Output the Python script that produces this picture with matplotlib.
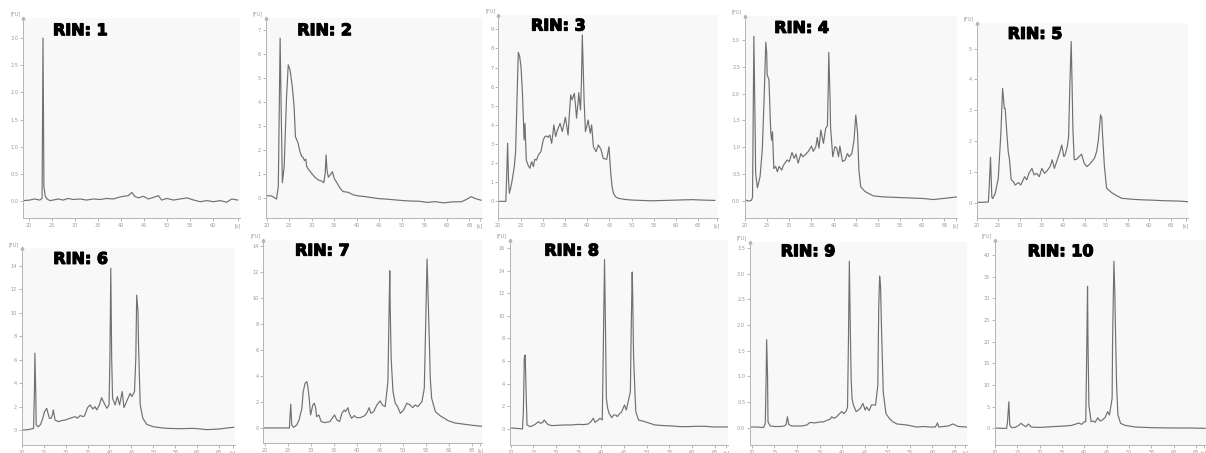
import matplotlib.pyplot as plt
import matplotlib.patheffects as pe
from matplotlib.ticker import FormatStrFormatter

# Bioanalyzer electropherograms, one per RIN score: migration time [s] vs fluorescence [FU]
rin_scores = [1, 2, 3, 4, 5, 6, 7, 8, 9, 10]

rin1_t = [18.8, 20.1, 21.2, 22.3, 22.8, 23.0, 23.2, 23.5, 23.9, 24.5, 25.2, 26.3, 27.4, 28.5,
          29.6, 31.1, 32.5, 34.0, 35.5, 36.9, 38.4, 39.5, 40.6, 41.6, 42.4, 43.0, 43.8, 44.9,
          46.0, 47.1, 48.2, 48.9, 50.0, 51.5, 52.9, 54.4, 55.9, 57.3, 58.8, 60.2, 61.7, 63.1,
          64.2, 65.5]
rin1_fu = [0.01, 0.02, 0.04, 0.02, 0.05, 3.0, 0.27, 0.09, 0.04, 0.01, 0.02, 0.04, 0.02, 0.05,
           0.03, 0.04, 0.02, 0.04, 0.03, 0.05, 0.04, 0.07, 0.09, 0.10, 0.16, 0.09, 0.06, 0.09,
           0.04, 0.07, 0.10, 0.02, 0.05, 0.02, 0.04, 0.06, 0.02, -0.01, 0.01, -0.01, 0.01, -0.02,
           0.04, 0.02]

rin2_t = [19.8, 21.1, 22.2, 22.6, 23.0, 23.2, 23.5, 23.9, 24.4, 24.8, 25.2, 25.7, 26.1, 26.4,
          27.0, 27.4, 27.8, 28.1, 28.4, 28.7, 28.9, 29.4, 30.0, 30.7, 31.5, 32.2, 32.7, 33.0,
          33.2, 33.4, 33.7, 34.1, 34.6, 35.0, 35.6, 36.3, 37.0, 38.1, 39.3, 40.4, 41.9, 43.3,
          44.8, 47.0, 49.3, 51.5, 53.7, 55.6, 57.4, 59.3, 61.1, 63.3, 64.4, 65.4, 66.3, 67.6]
rin2_fu = [0.11, 0.10, -0.03, 0.49, 6.67, 4.1, 0.65, 1.32, 4.1, 5.56, 5.35, 4.65, 3.82, 2.57,
           2.29, 1.94, 1.74, 1.71, 1.57, 1.63, 1.32, 1.18, 1.04, 0.88, 0.76, 0.72, 0.65, 1.04,
           1.81, 1.18, 0.88, 0.97, 1.11, 0.83, 0.65, 0.42, 0.28, 0.25, 0.14, 0.10, 0.07, 0.03,
           -0.01, -0.04, -0.08, -0.11, -0.12, -0.17, -0.14, -0.19, -0.15, -0.14, -0.04, 0.07,
           -0.01, -0.08]

rin3_t = [20.1, 21.7, 21.9, 22.1, 22.3, 22.5, 23.0, 23.6, 23.9, 24.2, 24.5, 24.8, 25.1, 25.4,
          25.6, 25.8, 26.0, 26.3, 26.7, 27.1, 27.5, 27.9, 28.2, 28.6, 29.0, 29.6, 30.1, 30.5,
          30.9, 31.2, 31.6, 32.0, 32.3, 32.5, 32.9, 33.3, 33.9, 34.4, 34.8, 35.1, 35.7, 36.0,
          36.3, 36.6, 37.1, 37.4, 37.6, 38.0, 38.1, 38.5, 38.7, 38.9, 39.1, 39.3, 39.6, 39.9,
          40.2, 40.7, 41.0, 41.4, 42.0, 42.5, 43.1, 43.6, 44.4, 44.9, 45.3, 45.6, 45.9, 46.4,
          47.0, 48.5, 50.0, 52.2, 54.5, 57.5, 60.5, 63.5, 65.7, 68.7]
rin3_fu = [0.0, 0.0, 1.47, 3.04, 1.12, 0.42, 0.94, 1.82, 2.6, 5.3, 7.8, 7.59, 7.05, 5.83,
           4.6, 3.21, 4.08, 2.16, 1.9, 1.73, 2.08, 1.82, 2.2, 2.16, 2.43, 2.6, 3.21, 3.39,
           3.42, 3.35, 3.47, 3.04, 3.56, 4.0, 3.39, 3.73, 4.08, 3.65, 4.08, 4.4, 3.47, 4.61,
           5.57, 5.31, 5.65, 4.96, 4.35, 5.31, 5.69, 4.78, 6.18, 8.71, 7.05, 5.31, 3.65, 3.91,
           4.26, 3.56, 4.0, 2.86, 2.6, 2.95, 2.72, 2.25, 2.2, 2.86, 1.47, 0.77, 0.42, 0.24,
           0.16, 0.1, 0.07, 0.05, 0.03, 0.05, 0.07, 0.09, 0.07, 0.05]

rin4_t = [20.2, 20.8, 21.5, 21.7, 22.0, 22.3, 22.4, 22.8, 23.4, 23.9, 24.3, 24.7, 24.9, 25.0,
          25.4, 25.8, 26.0, 26.2, 26.5, 26.9, 27.3, 27.7, 28.3, 28.6, 29.0, 29.5, 30.0, 30.6,
          31.1, 31.5, 32.0, 32.6, 33.0, 33.5, 34.3, 35.0, 35.4, 36.0, 36.3, 36.7, 37.1, 37.7,
          38.2, 38.6, 38.8, 38.9, 39.2, 39.3, 39.8, 40.3, 40.7, 41.1, 41.4, 42.0, 42.6, 43.1,
          43.5, 44.1, 44.6, 45.0, 45.4, 45.7, 46.1, 47.1, 48.9, 51.2, 54.2, 57.2, 60.2, 62.5,
          64.7, 67.9]
rin4_fu = [0.01, -0.01, 0.01, 0.07, 3.07, 1.26, 0.51, 0.24, 0.45, 0.95, 1.88, 2.96, 2.75, 2.35,
           2.26, 1.29, 1.13, 1.29, 0.6, 0.64, 0.54, 0.64, 0.57, 0.65, 0.7, 0.76, 0.73, 0.9,
           0.79, 0.87, 0.7, 0.88, 0.82, 0.85, 0.92, 1.02, 0.92, 1.01, 1.18, 0.98, 1.32, 1.07,
           1.35, 1.4, 2.19, 2.77, 1.88, 1.38, 0.82, 1.01, 0.98, 0.82, 1.02, 0.73, 0.76, 0.88,
           0.82, 0.88, 1.13, 1.6, 1.26, 0.57, 0.26, 0.17, 0.09, 0.07, 0.06, 0.05, 0.04, 0.02,
           0.04, 0.07]

rin5_t = [20.2, 21.5, 22.7, 22.9, 23.2, 23.5, 23.7, 24.3, 25.0, 25.6, 26.0, 26.4, 26.6, 27.1,
          27.3, 27.6, 28.0, 28.5, 28.9, 29.7, 30.2, 31.1, 31.6, 32.1, 32.8, 33.3, 33.9, 34.5,
          35.1, 35.7, 36.2, 37.0, 37.5, 38.0, 38.8, 39.3, 39.7, 40.2, 40.5, 41.0, 41.3, 41.6,
          41.9, 42.1, 42.3, 42.6, 43.2, 43.7, 44.3, 44.9, 45.5, 46.0, 46.7, 47.3, 47.8, 48.2,
          48.7, 49.0, 49.1, 49.6, 50.1, 51.3, 52.5, 53.6, 55.9, 58.3, 60.6, 63.7, 66.8, 68.9]
rin5_fu = [0.01, 0.01, 0.02, 0.52, 1.47, 0.19, 0.13, 0.3, 0.79, 2.25, 3.71, 3.06, 3.06, 2.03,
           1.66, 1.39, 0.74, 0.68, 0.57, 0.65, 0.57, 0.84, 0.74, 0.95, 1.11, 0.9, 0.95, 0.84,
           1.11, 0.95, 1.01, 1.17, 1.39, 1.11, 1.44, 1.66, 1.87, 1.49, 1.55, 1.82, 2.14, 3.87,
           5.23, 3.87, 2.36, 1.39, 1.41, 1.49, 1.57, 1.28, 1.17, 1.22, 1.33, 1.44, 1.66, 2.03,
           2.85, 2.74, 2.36, 1.17, 0.47, 0.32, 0.22, 0.14, 0.11, 0.09, 0.08, 0.06, 0.05, 0.03]

rin6_t = [20.2, 21.5, 22.7, 22.9, 23.0, 23.2, 23.3, 23.8, 24.3, 24.8, 25.2, 25.7, 26.0, 26.3,
          26.7, 27.1, 27.2, 27.4, 27.6, 28.4, 29.1, 29.9, 30.6, 31.4, 32.2, 32.7, 33.3, 34.1,
          34.4, 35.0, 35.6, 36.2, 36.7, 37.1, 37.7, 38.2, 38.8, 39.4, 39.9, 40.1, 40.3, 40.5,
          40.7, 41.3, 41.8, 42.3, 42.9, 43.3, 43.9, 44.7, 45.1, 45.7, 46.0, 46.2, 46.5, 46.6,
          47.0, 47.6, 48.5, 50.0, 51.5, 53.1, 56.1, 59.1, 60.7, 62.2, 63.7, 65.2, 66.7, 68.3]
rin6_fu = [0.0, 0.03, 0.14, 3.28, 6.55, 3.28, 0.43, 0.28, 0.48, 1.0, 1.57, 1.85, 1.42, 1.0,
           1.0, 1.42, 1.71, 1.28, 0.85, 0.71, 0.8, 0.85, 0.94, 1.05, 1.14, 1.0, 1.23, 1.14,
           1.28, 1.91, 2.14, 1.79, 1.99, 1.71, 2.14, 2.76, 2.28, 1.85, 2.14, 6.13, 13.8, 6.13,
           2.71, 2.14, 2.85, 2.14, 3.28, 1.91, 2.42, 3.13, 2.85, 3.28, 6.13, 11.5, 10.1, 7.55,
           2.14, 1.0, 0.48, 0.28, 0.2, 0.14, 0.11, 0.14, 0.09, 0.03, 0.06, 0.09, 0.17, 0.23]

rin7_t = [19.8, 22.9, 25.3, 25.4, 25.6, 25.8, 26.2, 26.9, 27.4, 28.0, 28.3, 28.7, 29.1, 29.3,
          29.6, 29.9, 30.4, 30.7, 31.0, 31.2, 31.7, 32.2, 33.0, 34.1, 34.6, 35.1, 35.6, 36.2,
          36.7, 37.2, 37.5, 38.0, 38.3, 38.8, 39.4, 39.9, 40.7, 41.7, 42.2, 42.6, 43.0, 43.6,
          44.3, 45.0, 45.5, 46.1, 46.7, 46.9, 47.1, 47.2, 47.4, 47.8, 48.3, 48.8, 49.4, 50.1,
          50.8, 51.5, 52.1, 52.6, 53.2, 54.1, 54.6, 54.9, 55.2, 55.4, 55.7, 55.9, 56.2, 57.0,
          58.0, 59.9, 61.3, 62.8, 64.9, 67.1]
rin7_fu = [0.0, 0.0, 0.0, 0.74, 1.82, 0.23, 0.05, 0.23, 0.62, 1.51, 2.79, 3.44, 3.56, 3.18,
           2.28, 1.0, 1.77, 1.9, 1.56, 0.87, 1.0, 0.49, 0.41, 0.49, 0.74, 1.0, 0.62, 0.49,
           1.13, 1.38, 1.26, 1.56, 1.13, 0.74, 0.95, 0.79, 0.79, 0.95, 1.21, 1.56, 1.13, 1.26,
           1.77, 2.08, 1.77, 1.64, 3.56, 7.92, 12.1, 9.2, 5.36, 2.79, 1.9, 1.64, 1.13, 1.38,
           1.9, 1.77, 1.56, 1.77, 1.64, 2.03, 3.05, 7.92, 13.0, 10.5, 6.64, 3.82, 2.28, 1.26,
           0.95, 0.54, 0.38, 0.31, 0.21, 0.13]

rin8_t = [20.0, 21.3, 22.6, 22.8, 23.0, 23.2, 23.4, 23.6, 24.3, 24.9, 25.4, 26.1, 26.6, 27.1,
          27.4, 27.8, 28.2, 29.0, 30.5, 32.0, 33.5, 34.9, 36.0, 37.1, 37.7, 38.2, 38.6, 39.3,
          39.7, 40.2, 40.4, 40.7, 40.9, 41.1, 41.4, 41.7, 42.3, 42.7, 43.2, 43.5, 43.9, 44.5,
          45.1, 45.5, 46.0, 46.4, 46.6, 46.8, 46.9, 47.1, 47.4, 47.6, 48.2, 49.6, 51.8, 53.7,
          55.5, 57.4, 59.2, 61.0, 62.9, 64.7, 66.5, 68.0]
rin8_fu = [0.06, 0.03, -0.03, 1.51, 6.24, 6.54, 3.28, 0.33, 0.18, 0.27, 0.38, 0.62, 0.47, 0.56,
           0.77, 0.56, 0.38, 0.27, 0.3, 0.33, 0.33, 0.38, 0.36, 0.41, 0.62, 0.92, 0.56, 0.77,
           0.92, 0.77, 6.24, 15.0, 9.2, 2.69, 1.8, 1.36, 0.98, 1.21, 1.21, 1.07, 1.27, 1.51,
           2.1, 1.66, 2.54, 3.28, 9.2, 13.9, 12.2, 6.54, 3.28, 1.51, 0.77, 0.62, 0.33, 0.27,
           0.24, 0.18, 0.18, 0.21, 0.21, 0.15, 0.15, 0.15]

rin9_t = [19.8, 21.1, 22.6, 23.0, 23.2, 23.3, 23.5, 23.6, 24.1, 25.2, 26.3, 27.2, 27.6, 27.9,
          28.2, 28.8, 30.0, 31.1, 32.2, 32.9, 34.0, 35.1, 35.9, 36.6, 37.3, 37.7, 38.2, 38.8,
          39.2, 39.9, 40.4, 40.9, 41.2, 41.4, 41.6, 41.8, 42.0, 42.2, 42.5, 43.1, 43.6, 44.0,
          44.6, 45.1, 45.4, 46.0, 46.5, 47.4, 47.9, 48.1, 48.3, 48.5, 48.7, 49.1, 49.7, 50.6,
          51.3, 52.1, 53.2, 54.3, 55.4, 56.5, 58.0, 59.5, 60.6, 60.9, 61.1, 61.4, 62.4, 63.5,
          64.5, 65.0, 65.7, 67.6]
rin9_fu = [0.01, 0.01, 0.0, 0.08, 1.02, 1.71, 1.02, 0.11, 0.03, 0.02, 0.02, 0.03, 0.06, 0.21,
           0.06, 0.03, 0.03, 0.03, 0.05, 0.1, 0.09, 0.11, 0.11, 0.14, 0.16, 0.21, 0.18, 0.21,
           0.25, 0.31, 0.27, 0.32, 0.4, 1.67, 3.24, 1.99, 0.95, 0.56, 0.44, 0.31, 0.34, 0.37,
           0.47, 0.34, 0.4, 0.33, 0.44, 0.44, 0.82, 2.32, 2.95, 2.77, 1.99, 0.69, 0.27, 0.16,
           0.11, 0.07, 0.06, 0.05, 0.03, 0.01, 0.02, 0.01, 0.01, 0.05, 0.09, 0.01, 0.02, 0.03,
           0.07, 0.05, 0.02, 0.01]

rin10_t = [20.1, 21.5, 22.6, 22.8, 23.1, 23.3, 23.7, 24.5, 25.2, 25.8, 26.3, 26.9, 27.5, 28.1,
           29.0, 30.4, 32.7, 34.2, 35.7, 37.2, 37.9, 38.7, 39.4, 40.0, 40.3, 40.5, 40.7, 40.8,
           41.0, 41.5, 42.0, 42.4, 43.0, 43.5, 44.0, 44.6, 45.2, 45.6, 46.2, 46.3, 46.6, 46.8,
           47.0, 47.2, 47.5, 48.1, 49.1, 51.3, 55.1, 59.6, 63.3, 67.0]
rin10_fu = [0.08, 0.0, 0.0, 1.54, 6.15, 0.77, 0.15, 0.23, 0.62, 1.15, 0.77, 0.38, 1.0, 0.31,
            0.23, 0.23, 0.38, 0.46, 0.54, 0.69, 0.92, 1.23, 0.92, 1.54, 1.54, 16.2, 32.8, 20.0,
            5.38, 1.54, 1.69, 1.38, 2.46, 1.69, 1.92, 2.46, 3.85, 3.08, 6.92, 20.0, 38.6, 31.5,
            20.0, 10.0, 3.08, 1.15, 0.69, 0.31, 0.15, 0.08, 0.08, 0.0]

traces = [(rin1_t, rin1_fu), (rin2_t, rin2_fu), (rin3_t, rin3_fu), (rin4_t, rin4_fu),
          (rin5_t, rin5_fu), (rin6_t, rin6_fu), (rin7_t, rin7_fu), (rin8_t, rin8_fu),
          (rin9_t, rin9_fu), (rin10_t, rin10_fu)]

# panel boxes in pixels: left, right, top, bottom
boxes = [(23.3, 240, 18, 218), (265.7, 482, 18, 218), (498.3, 718.3, 15, 218),
         (745, 957.3, 16, 218.3), (976.7, 1187.7, 22.7, 218),
         (21.7, 235, 248.3, 445), (263.3, 482.3, 240, 443.3), (510, 728.3, 240, 445),
         (750, 967.3, 241.7, 445), (995, 1206, 240, 445)]
xlims = [(18.7, 66.0), (19.8, 67.8), (20.0, 69.5), (20.0, 67.9), (20.0, 68.9),
         (20.0, 68.6), (19.63, 67.2), (19.85, 68.0), (19.62, 67.7), (20.0, 67.2)]
ylims = [(-0.31, 3.37), (-0.82, 7.51), (-0.87, 9.75), (-0.33, 3.45), (-0.5, 5.84),
         (-1.28, 15.5), (-1.18, 14.46), (-1.45, 16.74), (-0.34, 3.62), (-3.85, 43.5)]
ystep = [0.5, 1, 1, 0.5, 1, 2, 2, 2, 0.5, 5]
ytop = [3.0, 7, 9, 3.0, 5, 14, 14, 16, 3.5, 40]
# RIN label anchor: left edge, vertical centre (pixels)
label_pos = [(53, 30.7), (297.3, 30.7), (531, 26), (774.3, 28.3), (1007.7, 34.3),
             (53.3, 259.3), (295, 251), (544.3, 251), (780.7, 251.7), (1027.7, 251.7)]

W, H = 1206, 453
fig = plt.figure(figsize=(W / 100, H / 100), dpi=100)
fig.patch.set_facecolor('white')

grey_txt = '#9a9a9a'
heavy = [pe.withStroke(linewidth=0.9, foreground='black')]
for i, (t, fu) in enumerate(traces):
    l, r, top, b = boxes[i]
    ax = fig.add_axes([l / W, 1 - b / H, (r - l) / W, (b - top) / H])
    ax.set_facecolor('#f8f8f8')
    ax.plot(t, fu, color='#707070', lw=0.85)
    ax.set_xlim(*xlims[i])
    ax.set_ylim(*ylims[i])

    for s in ['top', 'right']:
        ax.spines[s].set_visible(False)
    for s in ['left', 'bottom']:
        ax.spines[s].set_color('#b4b4b4')
        ax.spines[s].set_linewidth(0.7)

    # x ticks every 5 s, the last one labelled with the unit
    s_pos = xlims[i][1] - 0.4
    xt = [v for v in range(20, 70, 5) if v < s_pos - 1.5]
    ax.set_xticks(xt + [s_pos])
    ax.set_xticklabels([str(v) for v in xt] + ['[s]'])

    n = int(round(ytop[i] / ystep[i]))
    yt = [k * ystep[i] for k in range(n + 1)]
    ax.set_yticks(yt)
    ax.yaxis.set_major_formatter(FormatStrFormatter('%.1f' if ystep[i] < 1 else '%d'))

    ax.tick_params(labelsize=3.6, colors=grey_txt, length=2, width=0.5, pad=1.5)
    ax.annotate('[FU]', xy=(0, 1), xycoords='axes fraction', xytext=(-2, 1),
                textcoords='offset points', ha='right', va='bottom', fontsize=3.6,
                color=grey_txt)
    ax.plot([0], [1], marker='^', ms=2, color='#b4b4b4', transform=ax.transAxes,
            clip_on=False)

    lx, ly = label_pos[i]
    fig.text(lx / W, 1 - ly / H, f'RIN: {rin_scores[i]}', fontsize=11.5,
             fontweight='bold', family='DejaVu Sans', color='black',
             ha='left', va='center', path_effects=heavy)

fig.savefig('out.png', dpi=100, facecolor='white')
